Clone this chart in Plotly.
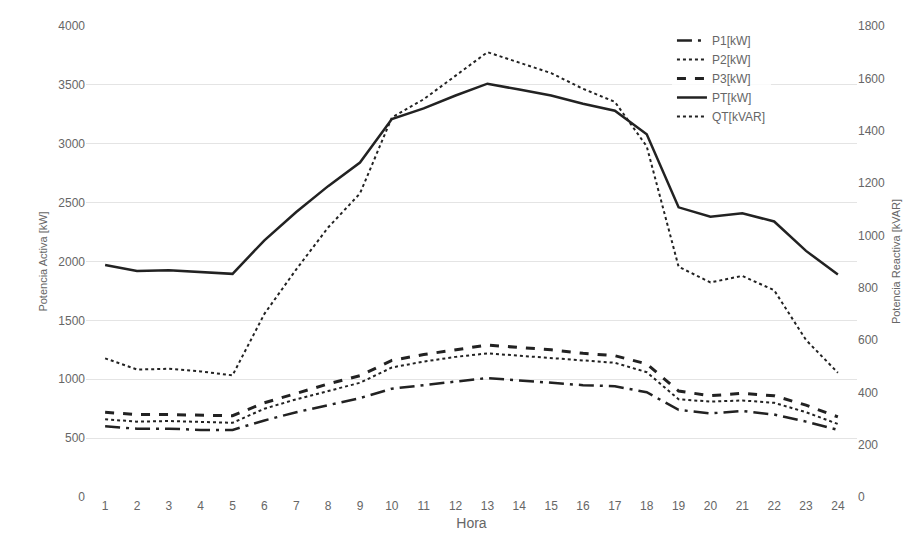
import plotly.graph_objects as go

hora = list(range(1, 25))
p1 = [600, 580, 580, 570, 570, 650, 720, 780, 840, 920, 950, 980, 1010, 990, 970, 950, 940, 890, 740, 710, 730, 700, 640, 570]
p2 = [660, 640, 645, 635, 630, 750, 830, 900, 970, 1100, 1150, 1190, 1220, 1200, 1180, 1160, 1140, 1060, 830, 810, 820, 800, 720, 620]
p3 = [720, 700, 700, 695, 690, 800, 880, 960, 1030, 1160, 1210, 1250, 1290, 1270, 1250, 1220, 1200, 1130, 900, 860, 880, 860, 780, 680]
pt = [1970, 1920, 1925, 1910, 1895, 2180, 2420, 2640, 2840, 3210, 3300, 3410, 3510, 3460, 3410, 3340, 3280, 3080, 2460, 2380, 2410, 2340, 2090, 1890]
qt = [530, 487, 490, 480, 465, 700, 870, 1030, 1160, 1450, 1520, 1610, 1700, 1660, 1620, 1560, 1510, 1340, 880, 820, 845, 790, 600, 475]

c = "#222222"
fig = go.Figure()
fig.add_trace(go.Scatter(x=hora, y=p1, name="P1[kW]", mode="lines", line=dict(color=c, width=2.5, dash="longdashdot")))
fig.add_trace(go.Scatter(x=hora, y=p2, name="P2[kW]", mode="lines", line=dict(color=c, width=2, dash="dot")))
fig.add_trace(go.Scatter(x=hora, y=p3, name="P3[kW]", mode="lines", line=dict(color=c, width=3, dash="dash")))
fig.add_trace(go.Scatter(x=hora, y=pt, name="PT[kW]", mode="lines", line=dict(color=c, width=2.5)))
fig.add_trace(go.Scatter(x=hora, y=qt, name="QT[kVAR]", mode="lines", yaxis="y2", line=dict(color=c, width=2, dash="dot")))

fnt = dict(family="Liberation Sans", size=12, color="#666666")
fig.update_layout(
    width=919, height=553, paper_bgcolor="white", plot_bgcolor="white",
    margin=dict(l=78, r=70, t=11, b=64), font=fnt, showlegend=True,
    xaxis=dict(tickmode="array", tickvals=hora, range=[0.4, 24.6], showgrid=False,
               title=dict(text="Hora", standoff=6), ticks="", showline=False, zeroline=False),
    yaxis=dict(range=[0, 4000], dtick=500, gridcolor="#e4e4e4", zeroline=False,
               title=dict(text="Potencia Activa [kW]", standoff=8, font=dict(size=11))),
    yaxis2=dict(range=[0, 1800], dtick=200, overlaying="y", side="right", showgrid=False, zeroline=False,
                title=dict(text="Potencia Reactiva [kVAR]", standoff=8, font=dict(size=11))),
    legend=dict(x=0.76, y=1.0, xanchor="left", yanchor="top", bgcolor="rgba(255,255,255,0.8)",
                font=dict(size=12, color="#666666"), tracegroupgap=0),
)
fig.write_html("out.html")
